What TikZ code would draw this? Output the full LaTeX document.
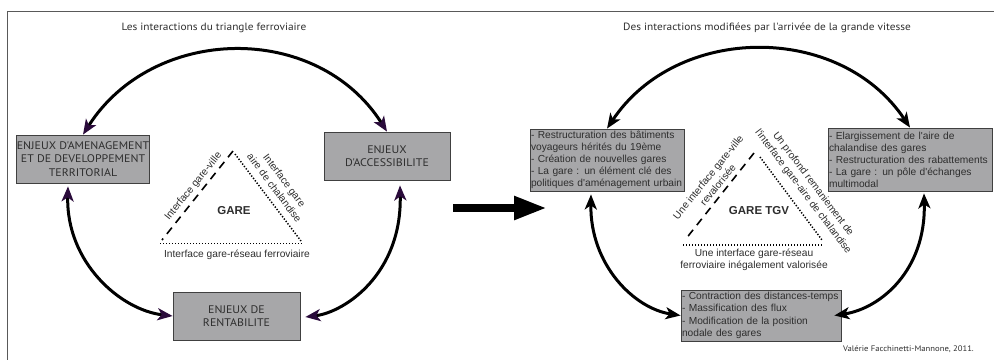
\documentclass[tikz,border=0pt]{standalone}
\usepackage{fontspec}
\newfontfamily\arialf{Liberation Sans}
\newfontfamily\myr[FakeStretch=1.08]{PT Sans}
\usetikzlibrary{arrows.meta,calc}
\definecolor{boxgray}{HTML}{A7A7A9}
\definecolor{tipL}{HTML}{2A0B3B}
\definecolor{txtc}{HTML}{2E2E2E}
\begin{document}
\begin{tikzpicture}[x=1pt,y=-1pt,
  capbox/.style={draw=black!75, line width=0.8pt, fill=boxgray, minimum height=48pt, inner sep=0pt, align=center, font=\myr\fontsize{11}{13.7}\selectfont, text=txtc},
  listbox/.style={draw=black!75, line width=0.8pt, fill=boxgray, inner xsep=1pt, inner ysep=0pt, align=left, font=\arialf\fontsize{10.2}{12}\selectfont, text=txtc},
  arcL/.style={line width=3pt, {Stealth[length=15pt,width=12pt,inset=4pt,color=tipL]}-{Stealth[length=15pt,width=12pt,inset=4pt,color=tipL]}},
  arcR/.style={line width=3pt, {Stealth[length=15pt,width=12pt,inset=4pt]}-{Stealth[length=15pt,width=12pt,inset=4pt]}},
  dashside/.style={line width=1.6pt, dash pattern=on 8pt off 6pt},
  dotside/.style={line width=1.5pt, dash pattern=on 1.3pt off 1.7pt},
  sidelabel/.style={font=\arialf\fontsize{10.2}{12.5}\selectfont, text=txtc, align=center, inner sep=0pt},
  title/.style={font=\myr\fontsize{10.5}{12}\selectfont, text=txtc},
  garelabel/.style={font=\arialf\bfseries\fontsize{11.5}{13}\selectfont, text=txtc}
]
\useasboundingbox (0,0) rectangle (994,360);
\fill[white] (0,0) rectangle (994,360);
% frame
\coordinate (f1) at (994,11);
\coordinate (f2) at (7,11);
\coordinate (f3) at (7,360);
\draw[black!65, line width=0.8pt] (f1) -- (f2) -- (f3);

% ===== Left panel =====
\node[title] (t1) at (214,28) {Les interactions du triangle ferroviaire};
\node[capbox, minimum width=132pt] (b1) at (83,159) {ENJEUX D'AMENAGEMENT\\ET DE DEVELOPPEMENT\\TERRITORIAL};
\node[capbox, minimum width=126pt] (b2) at (387,156) {ENJEUX\\D'ACCESSIBILITE};
\node[capbox, minimum width=127pt] (b3) at (236.5,316) {ENJEUX DE\\RENTABILITE};

\draw[arcL] (b1.north) .. controls +(70,-110) and +(-70,-110) .. (b2.north);
\draw[arcL] ($(b1.south)+(-15,3)$) .. controls +(-2,76) and +(-52,-6) .. (b3.west);
\draw[arcL] ($(b2.south)+(13,5)$) .. controls +(2,88) and +(40,-5) .. ($(b3.east)+(5,1)$);

\coordinate (la) at (233,151);
\coordinate (la2) at (235,154);
\coordinate (lbl) at (162,240);
\coordinate (lbr) at (301,241);
\coordinate (lb1) at (160,243.5);
\coordinate (lb2) at (302,243.5);
\draw[dashside] (la) -- (lbl);
\draw[dotside] (la2) -- (lbr);
\draw[dotside] (lb1) -- (lb2);
\node[garelabel] (g1) at (234,211) {GARE};
\node[sidelabel, rotate=51] (s1) at (193.5,186.5) {Interface gare-ville};
\node[sidelabel, rotate=-53] (s2) at (279.5,184) {Interface gare\\aire de chalandise};
\node[sidelabel] (s3) at (237,255) {Interface gare-réseau ferroviaire};

% big arrow
\coordinate (ba1) at (453,208);
\coordinate (ba2) at (547,208);
\draw[line width=8pt, -{Triangle[length=33pt,width=22pt]}] (ba1) -- (ba2);

% ===== Right panel =====
\node[title] (t2) at (767,28) {Des interactions modifiées par l'arrivée de la grande vitesse};
\node[listbox, text width=152pt, minimum height=62pt] (r1) at (607,160) {- Restructuration des bâtiments\\voyageurs hérités du 19ème\\- Création de nouvelles gares\\- La gare : un élément clé des\\politiques d'aménagement urbain};
\node[listbox, text width=162pt, minimum height=63pt] (r2) at (910,159.5) {- Elargissement de l'aire de\\chalandise des gares\\- Restructuration des rabattements\\- La gare : un pôle d'échanges\\multimodal};
\node[listbox, text width=158pt, minimum height=51pt, font=\arialf\fontsize{10.2}{12.5}\selectfont] (r3) at (761,315.5) {- Contraction des distances-temps\\- Massification des flux\\- Modification de la position\\nodale des gares};

\draw[arcR] (r1.north) .. controls +(70,-105) and +(-70,-105) .. (r2.north);
\draw[arcR] ($(r1.south)+(-16,3)$) .. controls +(-1,71) and +(-46,-7) .. (r3.west);
\draw[arcR] ($(r2.south)+(14,2)$) .. controls +(2,77) and +(46,-7) .. ($(r3.east)+(-7,0)$);

\coordinate (ra) at (754,153);
\coordinate (ra2) at (760,157);
\coordinate (rbl) at (685,240);
\coordinate (rbr) at (822,240);
\coordinate (rb1) at (683,245);
\coordinate (rb2) at (823,245);
\draw[dashside] (ra) -- (rbl);
\draw[dotside] (ra2) -- (rbr);
\draw[dotside] (rb1) -- (rb2);
\node[garelabel] (g2) at (759,211) {GARE TGV};
\node[sidelabel, rotate=51] (s4) at (713,181) {Une interface gare-ville\\revalorisée};
\node[sidelabel, rotate=-53] (s5) at (808,188) {Un profond remaniement de\\l'interface gare-aire de chalandise};
\node[sidelabel] (s6) at (754,260) {Une interface gare-réseau\\ferroviaire inégalement valorisée};

\node[font=\myr\fontsize{8}{9.5}\selectfont, text=txtc] (cr) at (908.5,349) {Valérie Facchinetti-Mannone, 2011.};
\end{tikzpicture}
\end{document}
